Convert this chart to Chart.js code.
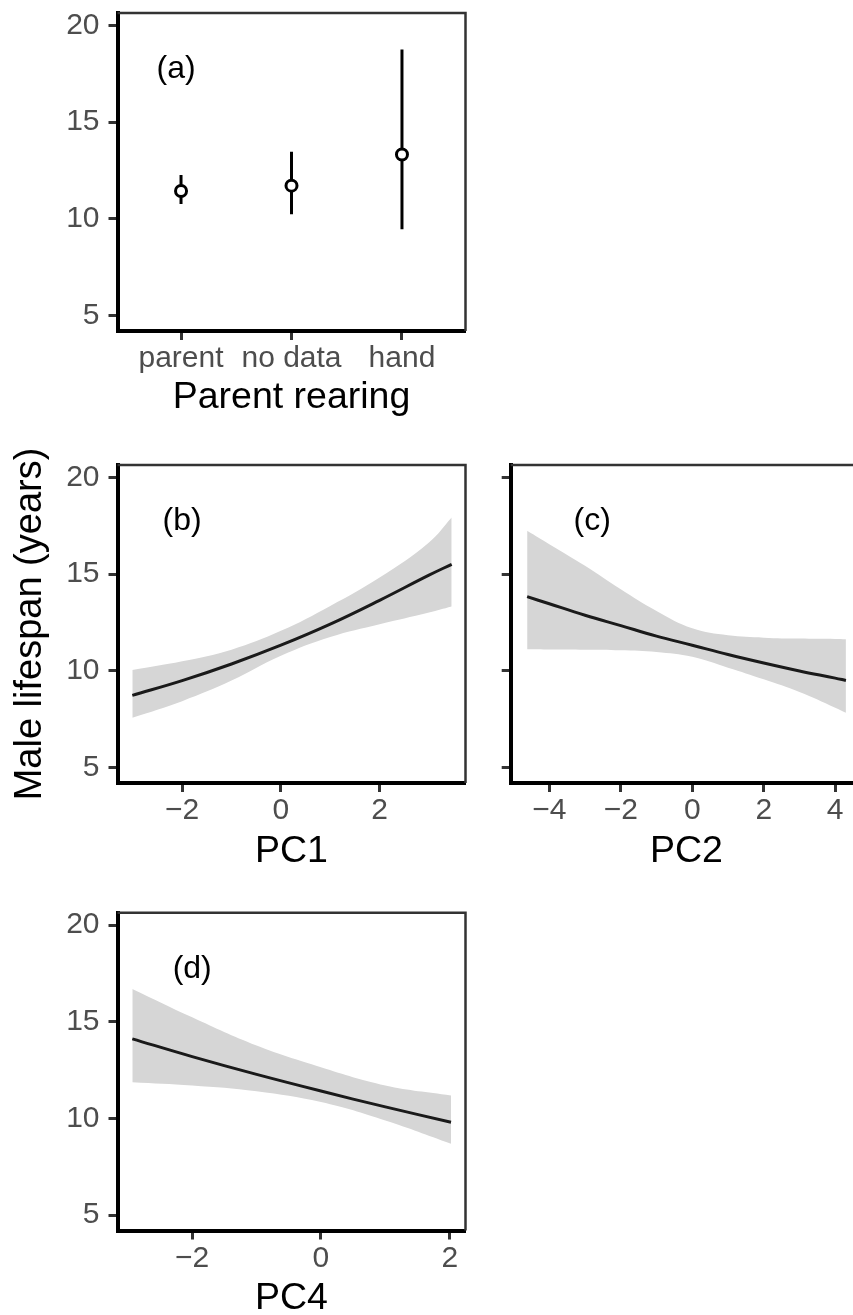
<!DOCTYPE html>
<html>
<head>
<meta charset="utf-8">
<script src="https://cdn.jsdelivr.net/npm/chart.js@4.4.1/dist/chart.umd.min.js"></script>
<style>
  html, body { margin: 0; padding: 0; background: #fff; overflow: hidden; width: 853px; height: 1315px; }
  .panel { position: absolute; }
</style>
</head>
<body>
<div class="panel" style="left:0px;top:0px"><canvas id="chartA" width="480" height="430"></canvas></div>
<div class="panel" style="left:0px;top:430px"><canvas id="chartB" width="480" height="450"></canvas></div>
<div class="panel" style="left:480px;top:430px"><canvas id="chartC" width="400" height="450"></canvas></div>
<div class="panel" style="left:0px;top:880px"><canvas id="chartD" width="480" height="450"></canvas></div>
<script>
// panel (a): parent rearing
const rearingCats = ["parent", "no data", "hand"];
const rearingMean = [11.44, 11.72, 13.33];
const rearingLow = [10.77, 10.24, 9.47];
const rearingHigh = [12.27, 13.47, 18.75];

// panel (b): PC1
const pc1X = [-3.01, -2, -1, 0, 1, 2, 3, 3.46];
const pc1Fit = [8.74, 9.5, 10.36, 11.33, 12.42, 13.65, 14.95, 15.51];
const pc1Low = [7.58, 8.44, 9.5, 10.78, 11.75, 12.41, 13.02, 13.33];
const pc1High = [10.05, 10.5, 11.1, 12.07, 13.36, 14.83, 16.64, 17.93];

// panel (c): PC2
const pc2X = [-4.62, -4, -3, -2, -1, 0, 1, 2, 3, 4, 4.3];
const pc2Fit = [13.84, 13.47, 12.88, 12.34, 11.8, 11.33, 10.85, 10.41, 10.0, 9.63, 9.51];
const pc2Low = [11.12, 11.11, 11.1, 11.07, 10.98, 10.73, 10.17, 9.57, 8.91, 8.1, 7.84];
const pc2High = [17.24, 16.55, 15.43, 14.22, 13.1, 12.2, 11.84, 11.72, 11.67, 11.65, 11.64];

// panel (d): PC4
const pc4X = [-2.93, -2, -1, 0, 1, 2.02];
const pc4Fit = [14.12, 13.2, 12.28, 11.42, 10.6, 9.81];
const pc4Low = [11.88, 11.71, 11.41, 10.85, 9.9, 8.7];
const pc4High = [16.7, 15.23, 13.77, 12.65, 11.71, 11.19];

const yTicks = [5, 10, 15, 20];
const pc1Ticks = [-2, 0, 2];
const pc2Ticks = [-4, -2, 0, 2, 4];
const pc4Ticks = [-2, 0, 2];

const FONT = "'Liberation Sans', Arial, Helvetica, sans-serif";
const TICK_TEXT = "#4d4d4d";
const BAND = "rgb(214,214,214)";

function minusLabel(v) {
  return v < 0 ? "\u2212" + Math.abs(v) : String(v);
}

function pts(xs, ys) {
  return xs.map((x, i) => ({ x: x, y: ys[i] }));
}

// top and right panel border, plus the (a)/(b)/... tag
const framePlugin = {
  id: "frame",
  afterDraw(chart, args, opts) {
    const { ctx, chartArea: a, scales } = chart;
    ctx.save();
    ctx.strokeStyle = "#333";
    ctx.lineWidth = 2.5;
    ctx.beginPath();
    ctx.moveTo(a.left, a.top);
    ctx.lineTo(a.right, a.top);
    ctx.lineTo(a.right, a.bottom);
    ctx.stroke();
    ctx.fillStyle = "#000";
    ctx.font = "32px " + FONT;
    ctx.textAlign = "center";
    ctx.textBaseline = "middle";
    ctx.fillText(opts.text, scales.x.getPixelForValue(opts.x), scales.y.getPixelForValue(opts.y));
    ctx.restore();
  },
};

function xAxis(min, max, ticks, title, height, titlePad, labelFn) {
  return {
    type: "linear",
    min: min,
    max: max,
    afterBuildTicks: (s) => { s.ticks = ticks.map((v) => ({ value: v })); },
    afterFit: (s) => { s.height = height; s.paddingLeft = 0; s.paddingRight = 0; },
    grid: { drawOnChartArea: false, tickLength: 9, tickWidth: 3, tickColor: "#333" },
    border: { color: "#000", width: 4 },
    ticks: {
      color: TICK_TEXT,
      font: { family: FONT, size: 30 },
      padding: 1,
      maxRotation: 0,
      autoSkip: false,
      callback: labelFn || minusLabel,
    },
    title: {
      display: true,
      text: title,
      color: "#000",
      font: { family: FONT, size: 37.5 },
      padding: { top: 0, bottom: titlePad },
    },
  };
}

function yAxis(width, showLabels, title) {
  return {
    type: "linear",
    min: 4.21,
    max: 20.64,
    afterBuildTicks: (s) => { s.ticks = yTicks.map((v) => ({ value: v })); },
    afterFit: (s) => { s.width = width; s.paddingTop = 0; s.paddingBottom = 0; },
    grid: { drawOnChartArea: false, tickLength: 9, tickWidth: 3, tickColor: "#333" },
    border: { color: "#000", width: 4 },
    ticks: {
      display: showLabels,
      color: TICK_TEXT,
      font: { family: FONT, size: 30 },
      padding: 9,
    },
    title: title
      ? { display: true, text: title, color: "#000", font: { family: FONT, size: 38 }, padding: { top: 7.5, bottom: 0 } }
      : { display: false },
  };
}

function commonOptions(padding, x, y, tag) {
  return {
    responsive: false,
    animation: false,
    devicePixelRatio: 1,
    layout: { padding: padding },
    scales: { x: x, y: y },
    plugins: { legend: { display: false }, tooltip: { enabled: false }, frame: tag },
  };
}

function smoothSets(xs, fit, low, high) {
  return [
    {
      data: pts(xs, fit),
      borderColor: "#1a1a1a",
      borderWidth: 3,
      pointRadius: 0,
      tension: 0.4,
      fill: false,
    },
    {
      data: pts(xs, low),
      borderColor: "rgba(0,0,0,0)",
      borderWidth: 0,
      pointRadius: 0,
      tension: 0.4,
      fill: false,
    },
    {
      data: pts(xs, high),
      borderColor: "rgba(0,0,0,0)",
      borderWidth: 0,
      pointRadius: 0,
      tension: 0.4,
      backgroundColor: BAND,
      fill: 1,
    },
  ];
}

// (a)
const errorBars = rearingCats.map((c, i) => ({
  data: [{ x: i + 1, y: rearingLow[i] }, { x: i + 1, y: rearingHigh[i] }],
  borderColor: "#000",
  borderWidth: 3,
  pointRadius: 0,
  fill: false,
}));
const means = {
  data: rearingCats.map((c, i) => ({ x: i + 1, y: rearingMean[i] })),
  showLine: false,
  pointRadius: 5.5,
  pointBorderWidth: 3,
  pointBorderColor: "#000",
  pointBackgroundColor: "#fff",
};

new Chart(document.getElementById("chartA"), {
  type: "line",
  data: { datasets: [means, ...errorBars] },
  options: commonOptions(
    { left: 0, top: 13, right: 14.5, bottom: 0 },
    xAxis(0.425, 3.575, [1, 2, 3], "Parent rearing", 99, 9.8, (v) => rearingCats[v - 1]),
    yAxis(117.5, true, null),
    { text: "(a)", x: 0.955, y: 17.73 }
  ),
  plugins: [framePlugin],
});

// (b)
new Chart(document.getElementById("chartB"), {
  type: "line",
  data: { datasets: smoothSets(pc1X, pc1Fit, pc1Low, pc1High) },
  options: commonOptions(
    { left: 0, top: 35, right: 14.5, bottom: 0 },
    xAxis(-3.31, 3.74, pc1Ticks, "PC1", 97, 5.8),
    yAxis(117.5, true, "Male lifespan (years)"),
    { text: "(b)", x: -2, y: 17.75 }
  ),
  plugins: [framePlugin],
});

// (c)
new Chart(document.getElementById("chartC"), {
  type: "line",
  data: { datasets: smoothSets(pc2X, pc2Fit, pc2Low, pc2High) },
  options: commonOptions(
    { left: 0, top: 35, right: 18, bottom: 0 },
    xAxis(-5.08, 4.75, pc2Ticks, "PC2", 97, 5.8),
    yAxis(30.7, false, null),
    { text: "(c)", x: -2.8, y: 17.75 }
  ),
  plugins: [framePlugin],
});

// (d)
new Chart(document.getElementById("chartD"), {
  type: "line",
  data: { datasets: smoothSets(pc4X, pc4Fit, pc4Low, pc4High) },
  options: commonOptions(
    { left: 0, top: 32.7, right: 14.5, bottom: 0 },
    xAxis(-3.16, 2.245, pc4Ticks, "PC4", 99.5, 8.8),
    yAxis(117.5, true, null),
    { text: "(d)", x: -2, y: 17.73 }
  ),
  plugins: [framePlugin],
});
</script>
</body>
</html>
